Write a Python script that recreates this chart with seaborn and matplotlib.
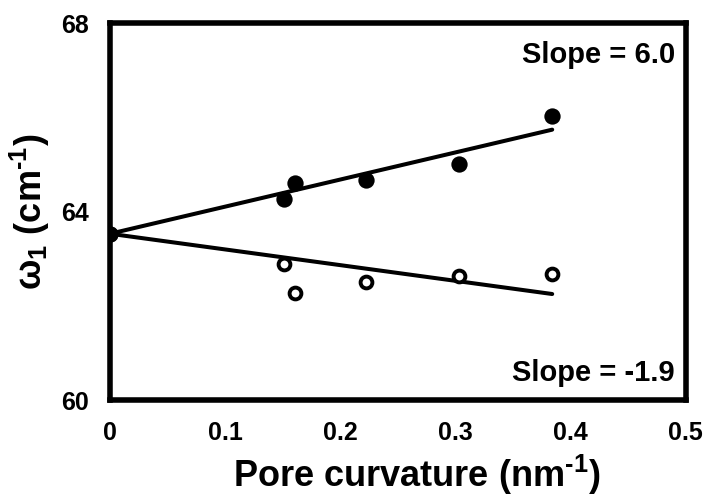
import numpy as np
import pandas as pd
import matplotlib
matplotlib.use("Agg")
import matplotlib.pyplot as plt
import seaborn as sns

# Pore curvature (nm^-1) and omega_1 (cm^-1) for the two series
curvature = [0.0, 0.151, 0.161, 0.222, 0.303, 0.384]
omega_filled = [63.53, 64.26, 64.60, 64.67, 65.01, 66.02]
omega_open = [63.53, 62.89, 62.28, 62.51, 62.63, 62.68]

x_ticks = [0, 0.1, 0.2, 0.3, 0.4, 0.5]
x_tick_labels = ["0", "0.1", "0.2", "0.3", "0.4", "0.5"]
y_ticks = [60, 64, 68]
slope_labels = ["Slope = 6.0", "Slope = -1.9"]

sns.set_style("white")
plt.rcParams["font.family"] = ["Liberation Sans", "DejaVu Sans"]
plt.rcParams["font.weight"] = "bold"
plt.rcParams["text.color"] = "black"
plt.rcParams["axes.labelcolor"] = "black"
plt.rcParams["mathtext.fontset"] = "custom"
plt.rcParams["mathtext.rm"] = "Liberation Sans:bold"
plt.rcParams["mathtext.it"] = "Liberation Sans:bold"
plt.rcParams["mathtext.bf"] = "Liberation Sans:bold"

df = pd.DataFrame({
    "curvature": curvature * 2,
    "omega": omega_filled + omega_open,
    "series": ["filled"] * len(curvature) + ["open"] * len(curvature),
})

fig = plt.figure(figsize=(7.07, 4.97), dpi=100)
ax = fig.add_axes([0.1556, 0.195, 0.8144, 0.7585])


def anchored_fit(x, y):
    """Least-squares line constrained through the first (x=0) point."""
    x = np.asarray(x)
    y = np.asarray(y)
    dx = x[1:] - x[0]
    dy = y[1:] - y[0]
    slope = np.sum(dx * dy) / np.sum(dx * dx)
    xs = np.array([x[0], x[-1]])
    return xs, y[0] + slope * (xs - x[0])


for vals in (omega_filled, omega_open):
    fx, fy = anchored_fit(curvature, vals)
    sns.lineplot(x=fx, y=fy, ax=ax, color="black", linewidth=2.9, zorder=3)

open_df = df[df["series"] == "open"]
filled_df = df[df["series"] == "filled"]
sns.scatterplot(data=open_df, x="curvature", y="omega", ax=ax, marker="o",
                s=72, facecolor="white", edgecolor="black", linewidth=2.8,
                zorder=4)
sns.scatterplot(data=filled_df, x="curvature", y="omega", ax=ax, marker="o",
                s=138, color="black", linewidth=0, zorder=5)

ax.set_xlim(0, 0.5)
ax.set_ylim(60, 68)
ax.set_xticks(x_ticks)
ax.set_xticklabels(x_tick_labels)
ax.set_yticks(y_ticks)

for side in ["left", "right", "top", "bottom"]:
    ax.spines[side].set_visible(True)
    ax.spines[side].set_linewidth(4.0)
    ax.spines[side].set_color("black")

ax.tick_params(axis="both", direction="out", length=5, width=4,
               colors="black", labelsize=18)
ax.tick_params(axis="x", pad=10)
ax.tick_params(axis="y", pad=10)
for lab in ax.get_xticklabels() + ax.get_yticklabels():
    lab.set_fontweight("bold")

ax.set_xlabel(r"Pore curvature (nm$^{\text{-1}}$)", fontsize=26,
              fontweight="bold")
ax.xaxis.set_label_coords(0.533, -0.141, transform=ax.transAxes)
ax.xaxis.label.set_va("top")
ax.set_ylabel(r"ω$_{1}$ (cm$^{\text{-1}}$)", fontsize=26, fontweight="bold",
              labelpad=7)

ax.text(0.981, 0.953, slope_labels[0], transform=ax.transAxes, ha="right",
        va="top", fontsize=21, fontweight="bold")
ax.text(0.981, 0.035, slope_labels[1], transform=ax.transAxes, ha="right",
        va="bottom", fontsize=21, fontweight="bold")

ax.grid(False)
fig.savefig("out.png", dpi=100, facecolor="white")
